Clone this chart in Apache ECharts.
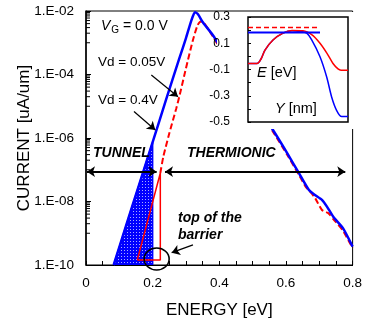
<!DOCTYPE html>
<html>
<head>
<meta charset="utf-8">
<script src="https://cdn.jsdelivr.net/npm/echarts@6/dist/echarts.min.js"></script>
<style>
html, body { margin: 0; padding: 0; background: #fff; }
#chart { width: 365px; height: 325px; }
</style>
</head>
<body>
<div id="chart"></div>
<script>
var FONT = 'Liberation Sans, Arial, sans-serif';

// current spectrum, Vd = 0.4V (blue)
var energy04 = [0.083, 0.12, 0.16, 0.20, 0.24, 0.28, 0.30, 0.316, 0.327, 0.336, 0.35, 0.384, 0.45, 0.50, 0.561, 0.605, 0.639, 0.669, 0.688, 0.708, 0.723, 0.742, 0.771, 0.80];
var current04 = [1.0e-10, 1.7e-9, 3.55e-8, 7.4e-7, 1.58e-5, 3.2e-4, 1.4e-3, 5.0e-3, 9.1e-3, 7.9e-3, 4.5e-3, 1.55e-3, 1.12e-4, 1.58e-5, 1.78e-6, 3.16e-7, 7.8e-8, 2.29e-8, 1.58e-8, 1.12e-8, 6.9e-9, 3.3e-9, 1.45e-9, 3.8e-10];

// current spectrum, Vd = 0.05V (red dashed)
var energy005 = [0.223, 0.232, 0.25, 0.271, 0.281, 0.30, 0.321, 0.335, 0.345, 0.355, 0.384, 0.45, 0.50, 0.561, 0.605, 0.639, 0.659, 0.675, 0.688, 0.708, 0.727, 0.742, 0.771, 0.80];
var current005 = [7.9e-8, 2.57e-7, 1.41e-6, 8.7e-6, 2.24e-5, 1.58e-4, 1.23e-3, 3.6e-3, 4.7e-3, 4.1e-3, 1.38e-3, 1.0e-4, 1.41e-5, 1.58e-6, 2.8e-7, 6.9e-8, 2.95e-8, 1.9e-8, 1.26e-8, 5.4e-9, 4.3e-9, 2.8e-9, 1.2e-9, 3.4e-10];

// tunnel parts below the barrier top
var tunnelE04 = [0.083, 0.12, 0.16, 0.20, 0.20];
var tunnelI04 = [1.0e-10, 1.7e-9, 3.55e-8, 7.4e-7, 1.0e-10];
var tunnelE005 = [0.154, 0.223, 0.223, 0.154];
var tunnelI005 = [1.45e-10, 7.9e-8, 1.45e-10, 1.45e-10];

// log axis minor ticks (upper decade of each major step)
var minorDecades = [1e-9, 1e-7, 1e-5, 1e-3];
var minorSteps = [1, 2, 3, 4, 5, 6, 7, 8, 9];

// inset: band profile E [eV] along Y
var insetPosRed = [0, 9, 13, 17, 25, 35, 44, 55, 64, 72, 79, 85, 90, 93, 100];
var insetRed = [-0.055, -0.055, -0.02, 0.048, 0.125, 0.177, 0.197, 0.195, 0.164, 0.10, 0.023, -0.054, -0.095, -0.105, -0.105];
var insetPosBlue = [0, 9, 13, 17, 25, 35, 44, 52, 58.7, 63.7, 72, 78.7, 83.7, 88.7, 93.7, 100];
var insetBlue = [-0.055, -0.055, -0.02, 0.048, 0.125, 0.177, 0.195, 0.19, 0.177, 0.125, -0.003, -0.157, -0.311, -0.413, -0.459, -0.459];
var levelPosBlue = [0, 72];
var levelBlue = [0.182, 0.182];
var levelPosRed = [0, 69];
var levelRed = [0.22, 0.22];

function pairs(xs, ys) {
    return xs.map(function (x, i) { return [x, ys[i]]; });
}

var minorTicks = [];
minorDecades.forEach(function (d) {
    minorSteps.forEach(function (k) { minorTicks.push([0, d * k]); });
});

// dotted blue fill
var pat = document.createElement('canvas');
pat.width = 3; pat.height = 3;
var pctx = pat.getContext('2d');
pctx.fillStyle = '#0000ff';
pctx.fillRect(0, 0, 3, 3);
pctx.fillStyle = '#a8acff';
pctx.fillRect(1, 1, 1, 1);

var myChart = echarts.init(document.getElementById('chart'));

var arrowStyle = { color: '#000', width: 1.2, type: 'solid' };
var bigArrow = { color: '#000', width: 2, type: 'solid' };

var option = {
    animation: false,
    textStyle: { fontFamily: FONT },
    grid: [
        { left: 86, top: 11, right: 7, bottom: 60, show: true, borderColor: '#000', borderWidth: 1 },
        { left: 248, top: 17, width: 100, height: 105, show: true, borderColor: '#000', borderWidth: 1.5, backgroundColor: '#fff', z: 20 }
    ],
    xAxis: [
        {
            gridIndex: 0, type: 'value', min: 0, max: 0.8, interval: 0.2,
            name: 'ENERGY [eV]', nameLocation: 'middle', nameGap: 37, nameMoveOverlap: false,
            nameTextStyle: { fontSize: 17, color: '#000', fontFamily: FONT },
            axisLine: { lineStyle: { color: '#000', width: 1 } },
            axisTick: { inside: true, length: 4, lineStyle: { color: '#000' } },
            minorTick: { show: true, splitNumber: 4, length: 4, lineStyle: { color: '#000' } },
            splitLine: { show: false },
            axisLabel: { fontSize: 13.5, color: '#000', margin: 11, fontFamily: FONT,
                formatter: function (v) { return v === 0 ? '0' : v.toFixed(1); } }
        },
        {
            gridIndex: 1, type: 'value', min: 0, max: 100, z: 20,
            axisLine: { show: false }, axisTick: { show: false }, axisLabel: { show: false },
            splitLine: { show: false }
        }
    ],
    yAxis: [
        {
            gridIndex: 0, type: 'log', logBase: 100, min: 1e-10, max: 1e-2,
            name: 'CURRENT [uA/um]', nameLocation: 'middle', nameGap: 53, nameMoveOverlap: false,
            nameTextStyle: { fontSize: 17, color: '#000', fontFamily: FONT },
            axisLine: { lineStyle: { color: '#000', width: 1.5 } },
            axisTick: { inside: true, length: 5, lineStyle: { color: '#000' } },
            splitLine: { show: false },
            axisLabel: { fontSize: 13.5, color: '#000', margin: 12, fontFamily: FONT,
                formatter: function (v) {
                    var e = Math.round(Math.log(v) / Math.LN10);
                    var a = Math.abs(e);
                    return '1.E' + (e < 0 ? '-' : '+') + (a < 10 ? '0' : '') + a;
                } }
        },
        {
            gridIndex: 1, type: 'value', min: -0.5, max: 0.3, interval: 0.2, z: 20,
            axisLine: { show: false },
            axisTick: { inside: true, length: 3, lineStyle: { color: '#000' } },
            minorTick: { show: true, splitNumber: 2, length: 3, lineStyle: { color: '#000' } },
            splitLine: { show: false },
            axisLabel: { fontSize: 12, color: '#000', margin: 18, fontFamily: FONT,
                formatter: function (v) { return v.toFixed(1); } }
        }
    ],
    series: [
        {
            name: 'tunnel 0.4V', type: 'line', xAxisIndex: 0, yAxisIndex: 0,
            data: pairs(tunnelE04, tunnelI04), showSymbol: false,
            lineStyle: { color: '#0000ff', width: 1.5 },
            areaStyle: { origin: 'start', color: { image: pat, repeat: 'repeat' }, opacity: 1 },
            markLine: {
                silent: true, symbol: ['none', 'arrow'], symbolSize: 8, animation: false,
                label: { show: false }, lineStyle: arrowStyle,
                data: [
                    [{ coord: [0.196, 9.6e-5] }, { coord: [0.276, 2.0e-5] }],
                    [{ coord: [0.144, 6.8e-6] }, { coord: [0.208, 1.78e-6] }],
                    [{ coord: [0.321, 4.3e-10] }, { coord: [0.257, 2.45e-10] }],
                    [{ coord: [0.003, 8.7e-8], symbol: 'arrow', lineStyle: bigArrow }, { coord: [0.212, 8.7e-8], lineStyle: bigArrow }],
                    [{ coord: [0.237, 8.7e-8], symbol: 'arrow', lineStyle: bigArrow }, { coord: [0.778, 8.7e-8], lineStyle: bigArrow }]
                ]
            }
        },
        {
            name: 'tunnel 0.05V', type: 'line', xAxisIndex: 0, yAxisIndex: 0,
            data: pairs(tunnelE005, tunnelI005), showSymbol: false,
            lineStyle: { color: '#ff0000', width: 1.5 },
            markPoint: {
                silent: true, animation: false,
                symbol: 'circle', symbolSize: [25, 22],
                itemStyle: { color: 'rgba(0,0,0,0)', borderColor: '#000', borderWidth: 1.5 },
                label: { show: false },
                data: [{ coord: [0.212, 1.55e-10] }]
            }
        },
        {
            name: 'Vd = 0.05V', type: 'line', xAxisIndex: 0, yAxisIndex: 0,
            data: pairs(energy005, current005), showSymbol: false, smooth: 0.2,
            lineStyle: { color: '#ff0000', width: 2, type: [6, 3] }
        },
        {
            name: 'Vd = 0.4V', type: 'line', xAxisIndex: 0, yAxisIndex: 0,
            data: pairs(energy04, current04), showSymbol: false, smooth: 0.2,
            lineStyle: { color: '#0000ff', width: 2.5 }
        },
        {
            name: 'minor ticks', type: 'custom', xAxisIndex: 0, yAxisIndex: 0,
            data: minorTicks, clip: false, silent: true,
            renderItem: function (params, api) {
                var p = api.coord([api.value(0), api.value(1)]);
                return { type: 'line', shape: { x1: p[0], y1: p[1], x2: p[0] + 4, y2: p[1] },
                    style: { stroke: '#000', lineWidth: 1 } };
            }
        },
        {
            name: 'band 0.4V', type: 'line', xAxisIndex: 1, yAxisIndex: 1, z: 21,
            data: pairs(insetPosBlue, insetBlue), showSymbol: false, smooth: 0.3,
            lineStyle: { color: '#0000ff', width: 1.5 }
        },
        {
            name: 'band 0.05V', type: 'line', xAxisIndex: 1, yAxisIndex: 1, z: 22,
            data: pairs(insetPosRed, insetRed), showSymbol: false, smooth: 0.3,
            lineStyle: { color: '#ff0000', width: 1.5 }
        },
        {
            name: 'EF 0.05V', type: 'line', xAxisIndex: 1, yAxisIndex: 1, z: 21,
            data: pairs(levelPosRed, levelRed), showSymbol: false,
            lineStyle: { color: '#ff0000', width: 1.5, type: [5, 3] }
        },
        {
            name: 'EF 0.4V', type: 'line', xAxisIndex: 1, yAxisIndex: 1, z: 23,
            data: pairs(levelPosBlue, levelBlue), showSymbol: false,
            lineStyle: { color: '#0000ff', width: 2 }
        }
    ],
    graphic: [
        { type: 'rect', z: 10, silent: true, shape: { x: 217, y: 12, width: 139, height: 117 }, style: { fill: '#fff' } },
        { type: 'text', z: 30, x: 101, y: 26, style: {
            text: '{v|V}{g|G}{n| = 0.0 V}', verticalAlign: 'middle', fill: '#000',
            rich: {
                v: { fontSize: 14, fontStyle: 'italic', fontFamily: FONT, lineHeight: 18 },
                g: { fontSize: 10, fontFamily: FONT, verticalAlign: 'bottom', lineHeight: 12, padding: [6, 0, 0, 1] },
                n: { fontSize: 14, fontFamily: FONT, lineHeight: 18 }
            } } },
        { type: 'text', z: 30, x: 98, y: 62, style: { text: 'Vd = 0.05V', font: '13.5px ' + FONT, fill: '#000', verticalAlign: 'middle' } },
        { type: 'text', z: 30, x: 98, y: 100, style: { text: 'Vd = 0.4V', font: '13.5px ' + FONT, fill: '#000', verticalAlign: 'middle' } },
        { type: 'text', z: 30, x: 93, y: 153, style: { text: 'TUNNEL', font: 'italic bold 14px ' + FONT, fill: '#000', verticalAlign: 'middle' } },
        { type: 'text', z: 30, x: 187, y: 153, style: { text: 'THERMIONIC', font: 'italic bold 14px ' + FONT, fill: '#000', verticalAlign: 'middle' } },
        { type: 'text', z: 30, x: 178, y: 218, style: { text: 'top of the', font: 'italic bold 14px ' + FONT, fill: '#000', verticalAlign: 'middle' } },
        { type: 'text', z: 30, x: 178, y: 235, style: { text: 'barrier', font: 'italic bold 14px ' + FONT, fill: '#000', verticalAlign: 'middle' } },
        { type: 'text', z: 30, x: 257, y: 73, style: {
            text: '{i|E}{n| [eV]}', verticalAlign: 'middle', fill: '#000',
            rich: { i: { fontSize: 14.5, fontStyle: 'italic', fontFamily: FONT }, n: { fontSize: 14.5, fontFamily: FONT } } } },
        { type: 'text', z: 30, x: 275, y: 109, style: {
            text: '{i|Y}{n| [nm]}', verticalAlign: 'middle', fill: '#000',
            rich: { i: { fontSize: 14.5, fontStyle: 'italic', fontFamily: FONT }, n: { fontSize: 14.5, fontFamily: FONT } } } }
    ]
};

myChart.setOption(option);
</script>
</body>
</html>
